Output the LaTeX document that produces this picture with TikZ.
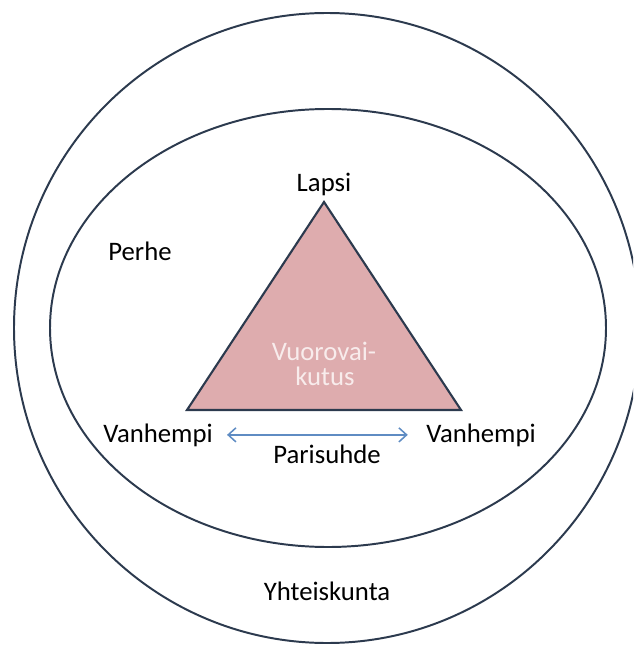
\documentclass[tikz,border=0pt]{standalone}
\usepackage{fontspec}
\setmainfont{Carlito}
\usetikzlibrary{arrows.meta, positioning}
\definecolor{RingNavy}{RGB}{44,58,78}
\definecolor{TriPink}{RGB}{222,172,174}
\definecolor{TextPink}{RGB}{248,236,236}
\definecolor{ArrowBlue}{RGB}{95,140,195}

\begin{document}
\begin{tikzpicture}[
    x=0.025cm,
    y=-0.025cm,
    font=\fontsize{19}{23}\selectfont,
    ring/.style={draw=RingNavy, line width=1.4pt},
    lbl/.style={anchor=base, inner sep=0pt, text=black},
    pairarrow/.style={ArrowBlue, line width=1.1pt,
      {Straight Barb[length=5.5pt, width=10pt]}-{Straight Barb[length=5.5pt, width=10pt]}}
]
\useasboundingbox (0,0) rectangle (633,649);
\clip (0,0) rectangle (633,649);

% Society and family rings
\draw[ring] (327,328) ellipse [x radius=313, y radius=315];
\draw[ring] (328,328) ellipse [x radius=278, y radius=219];

% Interaction triangle
\coordinate (apex) at (324,202);
\coordinate (baseL) at (187,410);
\coordinate (baseR) at (461,410);
\draw[draw=RingNavy, fill=TriPink, line width=1.5pt] (apex) -- (baseL) -- (baseR) -- cycle;

% Labels
\node[lbl] (lapsi) at (324,192) {Lapsi};
\node[lbl] (perhe) at (140,260) {Perhe};
\node[lbl, text=TextPink] (vuoro) at (324,360) {Vuorovai-};
\node[lbl, text=TextPink] (kutus) at (325,385) {kutus};
\node[lbl] (vanhL) at (158,442) {Vanhempi};
\node[lbl] (vanhR) at (481,442) {Vanhempi};
\node[lbl] (parisuhde) at (327,463) {Parisuhde};
\node[lbl] (yhteis) at (327,600) {Yhteiskunta};

% Couple relation
\draw[pairarrow, shorten <=10pt, shorten >=13pt] (vanhL.east) -- (vanhR.west);

\end{tikzpicture}
\end{document}
